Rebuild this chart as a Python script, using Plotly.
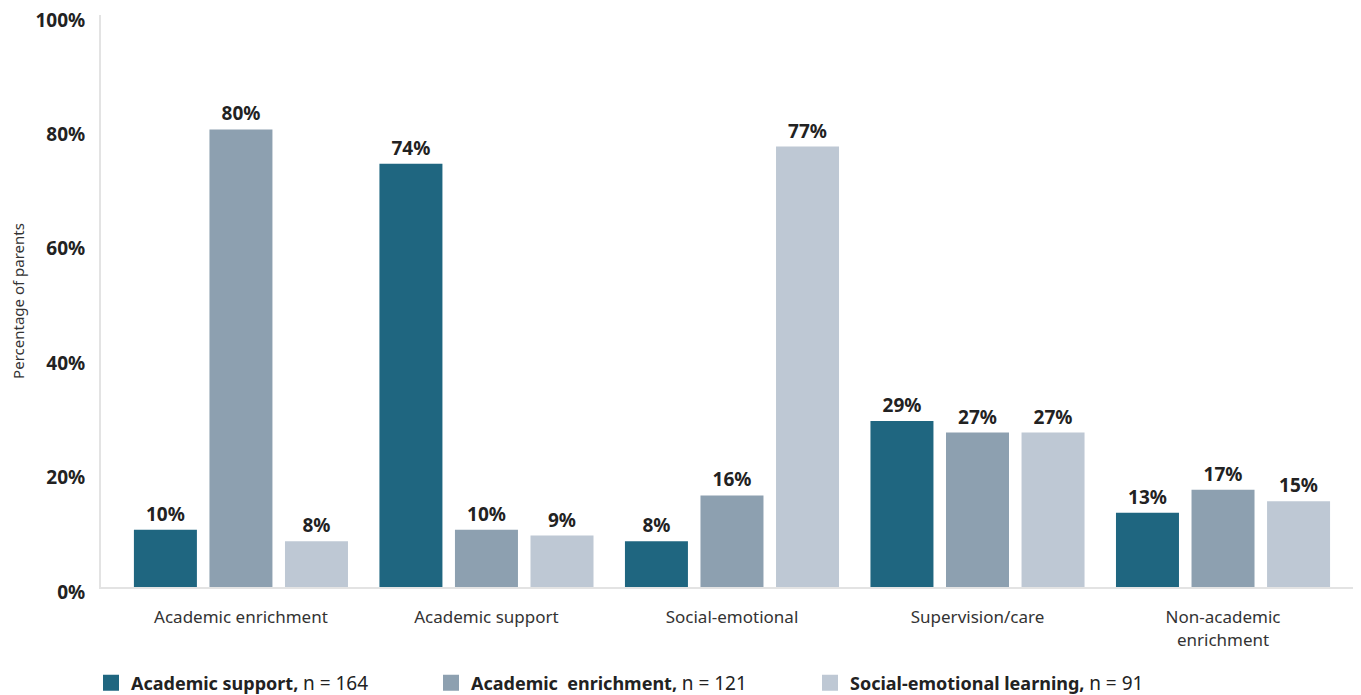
import plotly.graph_objects as go

categories = ["Academic enrichment", "Academic support", "Social-emotional",
              "Supervision/care", "Non-academic<br>enrichment"]
series_names = ["Academic support", "Academic  enrichment", "Social-emotional learning"]
series_n = [164, 121, 91]
academic_support = [10, 74, 8, 29, 13]
academic_enrichment = [80, 10, 16, 27, 17]
social_emotional = [8, 9, 77, 27, 15]
colors = ["#1F6680", "#8DA0B0", "#BEC8D4"]
yticks = [0, 20, 40, 60, 80, 100]

FONT = "Noto Sans"
OFF = 8  # page body margin offset
W, H = 1361 - OFF, 695 - OFF
L, R, T, B = 101 - OFF, 0, 15 - OFF, H - (587 - OFF)

fig = go.Figure()
all_series = [academic_support, academic_enrichment, social_emotional]
for name, vals, col in zip(series_names, all_series, colors):
    fig.add_trace(go.Bar(
        x=categories, y=vals, marker=dict(color=col, line=dict(width=0)),
        text=[f"{v}%" for v in vals], textposition="outside",
        textfont=dict(family=FONT, size=19, color="#222222", weight="bold"),
        cliponaxis=False, showlegend=False, hoverinfo="skip"))

legend_px = [103, 443, 822]
for i, (name, n, col) in enumerate(zip(series_names, series_n, colors)):
    lg = "legend" if i == 0 else f"legend{i+1}"
    fig.add_trace(go.Scatter(
        x=[None], y=[None], mode="markers",
        marker=dict(symbol="square", size=17, color=col),
        name=f"<b>{name},</b> <span style='font-size:19px'>n = {n}</span>",
        legend=lg, showlegend=True))

legend_common = dict(orientation="h", yref="container", xref="container",
                     y=(H - (683 - OFF)) / H, yanchor="middle", xanchor="left",
                     font=dict(family=FONT, size=18, color="#222222"),
                     bgcolor="rgba(0,0,0,0)", itemwidth=30)

layout_legends = {}
for i, px in enumerate(legend_px):
    key = "legend" if i == 0 else f"legend{i+1}"
    layout_legends[key] = dict(legend_common, x=(px - OFF - 12) / W)

fig.update_layout(
    width=W, height=H,
    margin=dict(l=L, r=R, t=T, b=B, autoexpand=False),
    paper_bgcolor="white", plot_bgcolor="white",
    barmode="group", bargap=0.077, bargroupgap=0.166,
    font=dict(family=FONT, color="#333333"),
    xaxis=dict(range=[-0.57, 4.562], showline=True, linecolor="#E3E3E3", linewidth=2,
               tickfont=dict(family=FONT, size=17, color="#333333"),
               ticks="", ticklabelstandoff=14, showgrid=False, zeroline=False, fixedrange=True),
    yaxis=dict(range=[0, 100], tickvals=yticks, ticktext=[f"{v}%" for v in yticks],
               showline=True, linecolor="#E3E3E3", linewidth=2,
               tickfont=dict(family=FONT, size=19, color="#222222", weight="bold"),
               ticks="", ticklabelstandoff=10, ticklabelshift=5, ticklabeloverflow="allow",
               showgrid=False, zeroline=False,
               title=dict(text="Percentage of parents", standoff=11,
                          font=dict(family=FONT, size=15, color="#333333"))),
    **layout_legends,
)

fig.write_html("out.html")
